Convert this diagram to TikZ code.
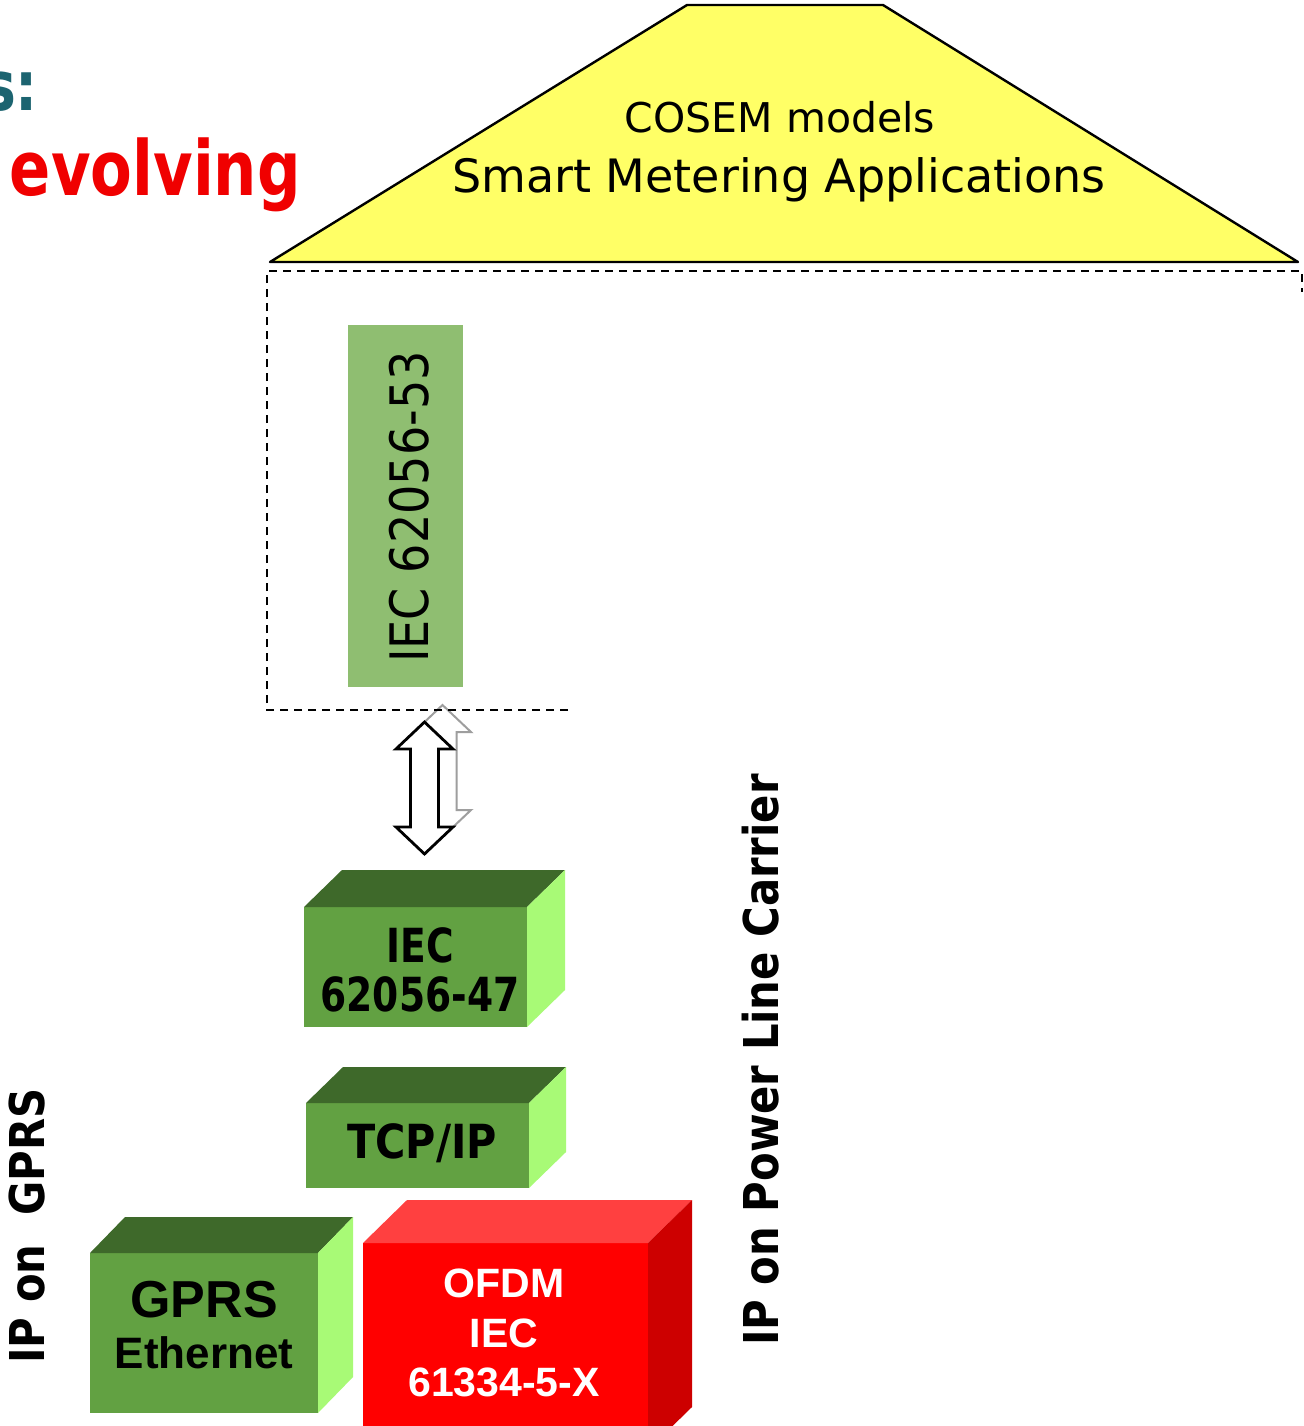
\documentclass[tikz,border=0pt]{standalone}
\usepackage{fontspec}
\usepackage{graphicx}
\setmainfont{DejaVu Sans}
\newfontfamily\arialf{Liberation Sans}
\definecolor{tealc}{RGB}{28,100,112}
\definecolor{redtxt}{RGB}{240,0,0}
\definecolor{yellowc}{RGB}{255,255,102}
\definecolor{g53}{RGB}{143,190,113}
\definecolor{gfront}{RGB}{98,161,66}
\definecolor{gtop}{RGB}{62,105,42}
\definecolor{gside}{RGB}{168,250,118}
\definecolor{rfront}{RGB}{255,0,0}
\definecolor{rtop}{RGB}{255,64,64}
\definecolor{rside}{RGB}{205,0,0}
\newcommand{\cubefaces}[5]{%
  \fill[#4] (#1.north west) -- (#1.north east) -- ([shift={(#2,#3)}]#1.north east) -- ([shift={(#2,#3)}]#1.north west) -- cycle;
  \fill[#5] (#1.north east) -- ([shift={(#2,#3)}]#1.north east) -- ([shift={(#2,#3)}]#1.south east) -- (#1.south east) -- cycle;}
\newcommand{\dblarrowpath}{(0,-66) -- (28.5,-39) -- (14,-39) -- (14,39) -- (28.5,39) -- (0,66) -- (-28.5,39) -- (-14,39) -- (-14,-39) -- (-28.5,-39) -- cycle}
\begin{document}
\begin{tikzpicture}[x=0.5pt,y=-0.5pt,
  every node/.style={inner sep=0pt,outer sep=0pt},
  boxtxt/.style={anchor=base,font=\fontsize{23.5}{28}\selectfont\bfseries},
  artxt/.style={anchor=base,font=\arialf\bfseries},
  sidelabel/.style={rotate=90,anchor=base,font=\fontsize{24}{28}\selectfont\bfseries}]
\useasboundingbox (0,0) rectangle (1303,1426);
\fill[white] (0,0) rectangle (1303,1426);

% heading fragments
\node[anchor=base east,text=tealc,font=\fontsize{34.5}{40}\selectfont\bfseries] (hs) at (38,110) {\scalebox{0.8}[1]{s:}};
\node[anchor=base west,text=redtxt,font=\fontsize{38}{44}\selectfont\bfseries] (hevolv) at (10,195) {\scalebox{0.8}[1]{evolving}};

% roof
\filldraw[fill=yellowc,draw=black,line width=1.2pt,line join=round] (270,262) -- (687,5) -- (883,5) -- (1298,262) -- cycle;
\node[anchor=base,font=\fontsize{20.5}{24}\selectfont] (cosem) at (780,132) {COSEM models};
\node[anchor=base,font=\fontsize{23}{28}\selectfont] (sma) at (779,192) {Smart Metering Applications};

% IEC 62056-53
\node[fill=g53,minimum width=57.5pt,minimum height=181pt] (iec53) at (405.5,506) {};
\node[rotate=90,anchor=base,font=\fontsize{26.5}{30}\selectfont] (iec53t) at (428,507) {\scalebox{0.87}[1]{IEC 62056-53}};

% double arrows
\coordinate (agrey) at (442.5,771);
\coordinate (ablack) at (424.5,788);
\filldraw[shift={(agrey)},fill=white,draw=black!38,line width=1pt,line join=miter] \dblarrowpath;
\filldraw[shift={(ablack)},fill=white,draw=black,line width=1.4pt,line join=miter] \dblarrowpath;

% dashed frame
\draw[line width=1pt,dash pattern=on 4pt off 3pt] (568,710) -- (267,710) -- (267,271) -- (1302,271) -- (1302,292);

% cube IEC 62056-47
\node[fill=gfront,minimum width=111.5pt,minimum height=60pt] (b1) at (415.5,967) {};
\cubefaces{b1}{38}{-37}{gtop}{gside}
\node[boxtxt] (b1a) at (420,962) {\scalebox{0.8}[1]{IEC}};
\node[boxtxt] (b1b) at (420,1011) {\scalebox{0.8}[1]{62056-47}};

% cube TCP/IP
\node[fill=gfront,minimum width=111.5pt,minimum height=42.5pt] (b2) at (417.5,1145.5) {};
\cubefaces{b2}{37}{-36}{gtop}{gside}
\node[boxtxt] (b2a) at (422,1158) {\scalebox{0.88}[1]{TCP/IP}};

% cube GPRS
\node[fill=gfront,minimum width=114pt,minimum height=80pt] (b3) at (204,1333) {};
\cubefaces{b3}{35}{-36}{gtop}{gside}
\node[artxt,font=\arialf\bfseries\fontsize{26}{30}\selectfont] (b3a) at (204,1317) {GPRS};
\node[artxt,font=\arialf\bfseries\fontsize{22}{26}\selectfont] (b3b) at (204,1368) {Ethernet};

% cube OFDM
\node[fill=rfront,minimum width=142.5pt,minimum height=103.5pt] (b4) at (505.5,1346.5) {};
\cubefaces{b4}{44}{-43}{rtop}{rside}
\node[artxt,text=white,font=\arialf\bfseries\fontsize{20.5}{24}\selectfont] (b4a) at (504,1297) {OFDM};
\node[artxt,text=white,font=\arialf\bfseries\fontsize{20.5}{24}\selectfont] (b4b) at (504,1347) {IEC};
\node[artxt,text=white,font=\arialf\bfseries\fontsize{20.5}{24}\selectfont] (b4c) at (504,1396) {61334-5-X};

% side labels
\node[sidelabel] (lgprs) at (45,1226) {\scalebox{0.87}[1]{IP on~~GPRS}};
\node[sidelabel] (lplc) at (778,1060) {\scalebox{0.87}[1]{IP on Power Line Carrier}};
\end{tikzpicture}
\end{document}
